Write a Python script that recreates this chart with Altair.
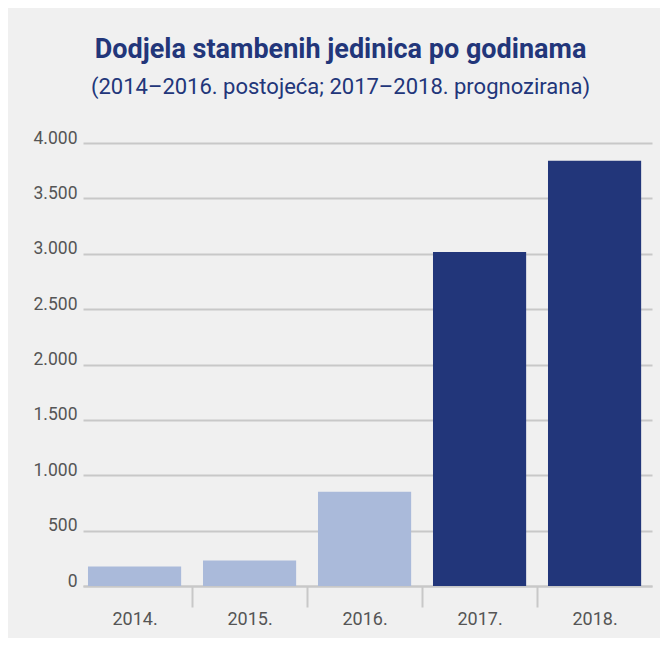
import altair as alt
import pandas as pd

years = ["2014.", "2015.", "2016.", "2017.", "2018."]
values = [175, 230, 850, 3015, 3840]
kinds = ["postojeća", "postojeća", "postojeća", "prognozirana", "prognozirana"]

df = pd.DataFrame({"godina": years, "broj": values, "vrsta": kinds})

NAVY = "#22367a"
LIGHT = "#aabada"
GRID = "#c8c8c8"
LABEL = "#555555"

bars = alt.Chart(df).mark_bar().encode(
    x=alt.X(
        "godina:N",
        sort=years,
        title=None,
        scale=alt.Scale(paddingInner=0.19, paddingOuter=0.0689, align=0.315),
        axis=alt.Axis(
            labelAngle=0,
            labelFont="Roboto",
            labelFontSize=18,
            labelColor=LABEL,
            labelPadding=3,
            labelOffset=11,
            bandPosition=0,
            tickOffset=-11,
            tickSize=21,
            tickWidth=2,
            tickColor=GRID,
            tickOpacity={"condition": {"test": "datum.index > 0", "value": 1}, "value": 0},
            domainColor=GRID,
            domainWidth=2,
            grid=False,
        ),
    ),
    y=alt.Y(
        "broj:Q",
        title=None,
        scale=alt.Scale(domain=[0, 4000], nice=False),
        axis=alt.Axis(
            values=[0, 500, 1000, 1500, 2000, 2500, 3000, 3500, 4000],
            labelExpr="replace(format(datum.value, ','), ',', '.')",
            labelFont="Roboto",
            labelFontSize=17.5,
            labelColor=LABEL,
            labelPadding=6,
            labelBaseline="alphabetic",
            ticks=False,
            domain=False,
            grid=True,
            gridColor=GRID,
            gridWidth=2,
        ),
    ),
    color=alt.Color(
        "vrsta:N",
        scale=alt.Scale(domain=["postojeća", "prognozirana"], range=[LIGHT, NAVY]),
        legend=None,
    ),
).properties(
    width=569,
    height=443,
    title=alt.TitleParams(
        text="Dodjela stambenih jedinica po godinama",
        subtitle="(2014–2016. postojeća; 2017–2018. prognozirana)",
        font="Roboto",
        fontSize=27,
        fontWeight="bold",
        color=NAVY,
        subtitleFont="Roboto",
        subtitleFontSize=22,
        subtitleColor=NAVY,
        subtitlePadding=13,
        anchor="middle",
        frame="group",
        dx=-27,
        offset=30,
    ),
    autosize=alt.AutoSizeParams(type="none"),
    padding={"left": 75, "right": 8, "top": 135, "bottom": 52},
).configure(
    background="#f0f0f0",
).configure_view(
    stroke=None,
)

chart = bars
chart.save("out.html", embed_options={"renderer": "svg", "actions": False})
